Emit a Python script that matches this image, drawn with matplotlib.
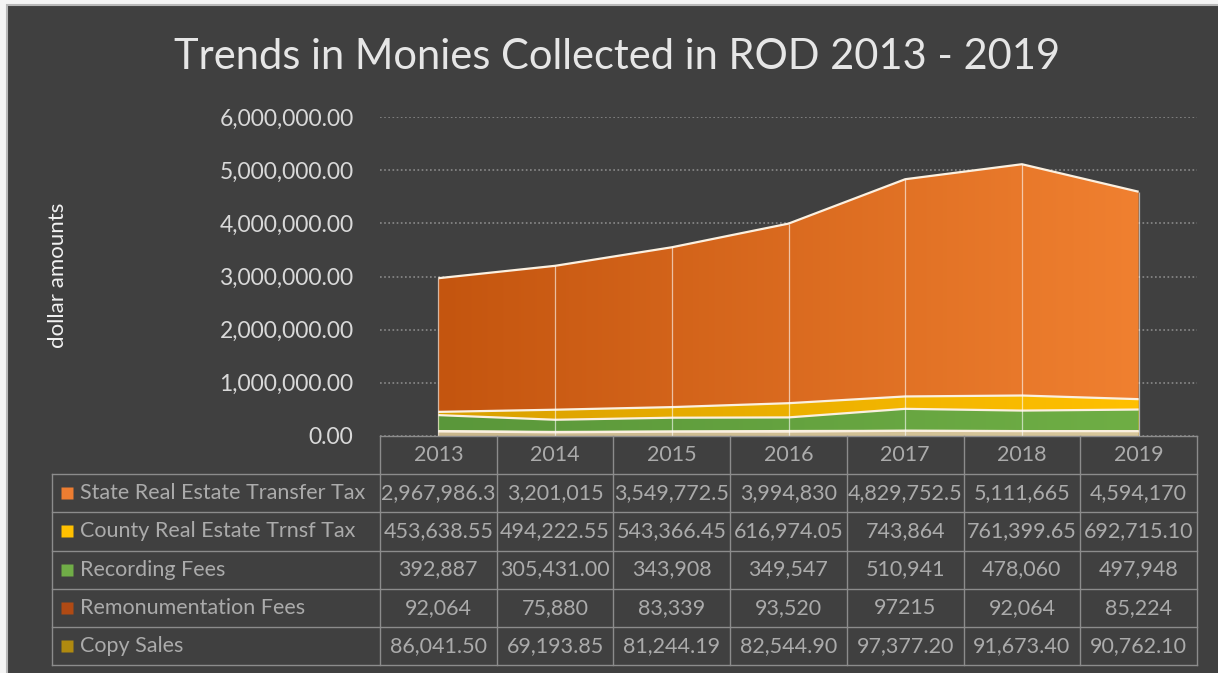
import matplotlib
matplotlib.use("Agg")
import matplotlib.pyplot as plt
import numpy as np
from matplotlib.colors import LinearSegmentedColormap
from matplotlib.patches import Rectangle
from matplotlib.ticker import FuncFormatter


YEARS = ["2013", "2014", "2015", "2016", "2017", "2018", "2019"]

SERIES_NAMES = [
    "State Real Estate Transfer Tax",
    "County Real Estate Trnsf Tax",
    "Recording Fees",
    "Remonumentation Fees",
    "Copy Sales",
]

# values exactly as printed in the data table
STATE_TEXT = ["2,967,986.3", "3,201,015", "3,549,772.5", "3,994,830", "4,829,752.5", "5,111,665", "4,594,170"]
COUNTY_TEXT = ["453,638.55", "494,222.55", "543,366.45", "616,974.05", "743,864", "761,399.65", "692,715.10"]
RECORDING_TEXT = ["392,887", "305,431.00", "343,908", "349,547", "510,941", "478,060", "497,948"]
REMON_TEXT = ["92,064", "75,880", "83,339", "93,520", "97215", "92,064", "85,224"]
COPY_TEXT = ["86,041.50", "69,193.85", "81,244.19", "82,544.90", "97,377.20", "91,673.40", "90,762.10"]

TABLE_TEXT = [STATE_TEXT, COUNTY_TEXT, RECORDING_TEXT, REMON_TEXT, COPY_TEXT]

# (left colour, right colour) of the gradient fill, legend key colour
FILL_COLORS = [
    ("#c4550f", "#f08030"),
    ("#d9a000", "#ffc000"),
    ("#5a973a", "#6fae45"),
    ("#b3501c", "#c86a2a"),
    ("#c9b78c", "#d8c89c"),
]
KEY_COLORS = ["#ed7d31", "#ffc000", "#70ad47", "#b04a14", "#b08a10"]

BG = "#404040"
FONT = ["Lato", "DejaVu Sans"]


def to_number(text):
    return float(text.replace(",", ""))


def gradient_area(ax, x, y, colors, zorder):
    poly = ax.fill_between(x, 0, y, facecolor="none", edgecolor="none", zorder=zorder)
    cmap = LinearSegmentedColormap.from_list("grad", list(colors))
    img = ax.imshow(
        np.linspace(0, 1, 256).reshape(1, -1),
        cmap=cmap,
        aspect="auto",
        extent=[x[0], x[-1], 0, max(y)],
        origin="lower",
        interpolation="bilinear",
        zorder=zorder,
    )
    img.set_clip_path(poly.get_paths()[0], transform=ax.transData)
    ax.plot(x, y, color="#fbf0e0", lw=1.6, zorder=zorder + 0.5, solid_capstyle="butt")


def main():
    plt.rcParams["font.family"] = FONT

    fig = plt.figure(figsize=(12.18, 6.73), dpi=100, facecolor="#f4f4f4")
    fig.add_artist(
        Rectangle((7 / 1218, -0.01), 1.02, 668 / 673 + 0.01, transform=fig.transFigure,
                  facecolor=BG, edgecolor="#b8b8b8", lw=1.5, zorder=0)
    )

    values = [[to_number(t) for t in row] for row in TABLE_TEXT]
    x = np.arange(len(YEARS))

    ax = fig.add_axes([380 / 1218, 237 / 673, 817 / 1218, 319 / 673])
    ax.set_facecolor("none")

    for i, (vals, colors) in enumerate(zip(values, FILL_COLORS)):
        gradient_area(ax, x, vals, colors, zorder=2 + i)

    ax.vlines(x, 0, values[0], colors="#ffffff", lw=0.9, alpha=0.6, zorder=10)

    ax.set_xlim(-0.5, len(YEARS) - 0.5)
    ax.set_ylim(0, 6_000_000)
    ax.set_yticks(np.arange(0, 6_000_001, 1_000_000))
    ax.yaxis.set_major_formatter(FuncFormatter(lambda v, _: f"{v:,.2f}"))
    ax.tick_params(axis="y", length=0, pad=19, labelsize=16.5, labelcolor="#d9d9d9")
    ax.set_xticks([])
    for side in ["top", "right", "left", "bottom"]:
        ax.spines[side].set_visible(False)
    ax.grid(axis="y", color="#8a8a8a", linestyle=(0, (1, 1.5)), lw=1.2, zorder=1)
    ax.set_axisbelow(True)

    fig.text(617 / 1218, 1 - 57 / 673, "Trends in Monies Collected in ROD 2013 - 2019",
             ha="center", va="center", fontsize=30, color="#e6e6e6")
    fig.text(58 / 1218, 1 - 275 / 673, "dollar amounts", rotation=90,
             ha="center", va="center", fontsize=16, color="#f2f2f2")

    # data table under the chart
    col_w = 817 / 7
    label_w = (380 - 52) / col_w
    tab = fig.add_axes([52 / 1218, 8 / 673, (1197 - 52) / 1218, 229 / 673])
    tab.set_xlim(-0.5 - label_w, len(YEARS) - 0.5)
    tab.set_ylim(len(SERIES_NAMES) + 1, 0)
    tab.axis("off")

    line_kw = dict(color="#8c8c8c", lw=1.0, clip_on=False)
    left = -0.5 - label_w
    right = len(YEARS) - 0.5
    tab.plot([-0.5, right], [0, 0], **line_kw)
    for r in range(1, len(SERIES_NAMES) + 2):
        tab.plot([left, right], [r, r], **line_kw)
    for c in range(len(YEARS) + 1):
        tab.plot([c - 0.5, c - 0.5], [0, len(SERIES_NAMES) + 1], **line_kw)
    tab.plot([left, left], [1, len(SERIES_NAMES) + 1], **line_kw)

    text_color = "#ababab"
    for c, year in enumerate(YEARS):
        tab.text(c, 0.5, year, ha="center", va="center", fontsize=15.5, color=text_color)

    for r, (name, row, key) in enumerate(zip(SERIES_NAMES, TABLE_TEXT, KEY_COLORS)):
        yy = r + 1.5
        tab.plot([left + 15 / col_w], [yy], marker="s", ms=8, color=key, mec="none")
        tab.text(left + 28 / col_w, yy, name, ha="left", va="center",
                 fontsize=15.5, color=text_color)
        for c, cell in enumerate(row):
            tab.text(c, yy, cell, ha="center", va="center", fontsize=15.5, color=text_color)

    fig.savefig("out.png", dpi=100, facecolor=fig.get_facecolor())
    plt.close(fig)


if __name__ == "__main__":
    main()
